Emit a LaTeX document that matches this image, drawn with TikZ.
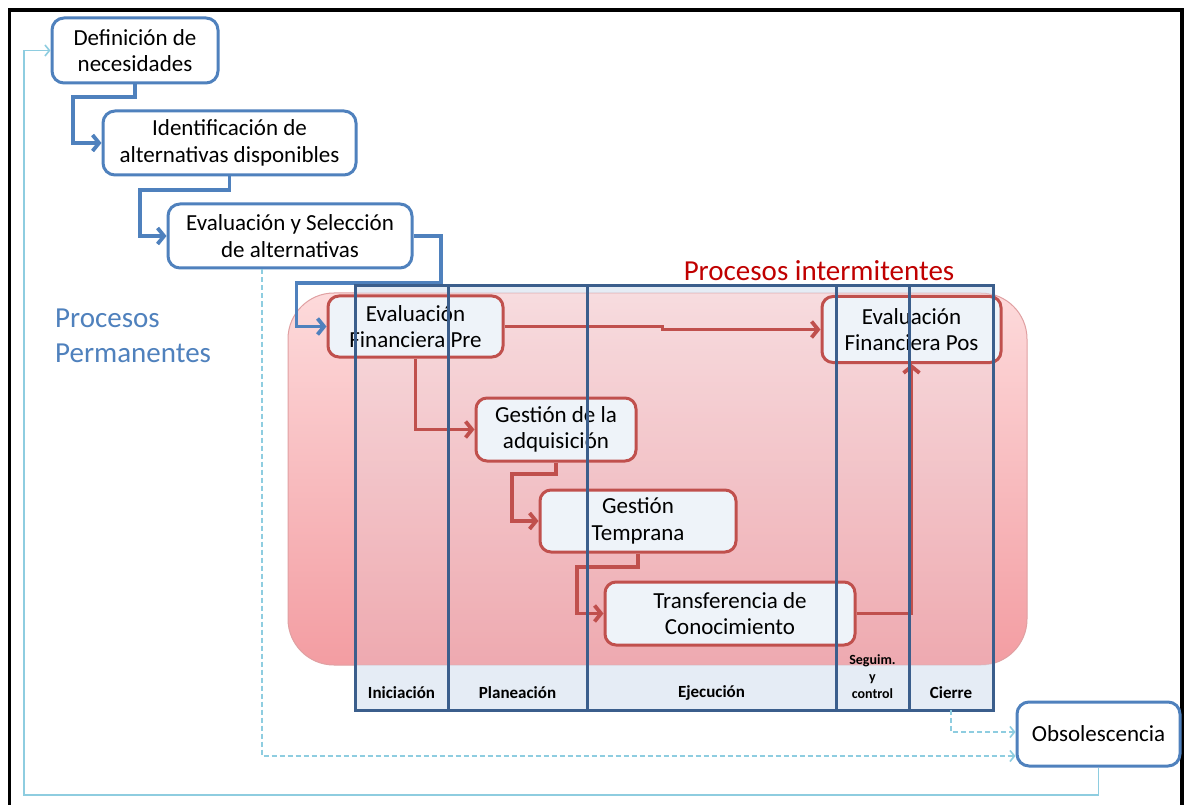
\documentclass[tikz,border=0pt]{standalone}
\usepackage{fontspec}
\setmainfont{Carlito}
\usetikzlibrary{arrows.meta,calc}
\definecolor{accblue}{HTML}{4F81BD}
\definecolor{accred}{HTML}{C0504D}
\definecolor{tblue}{HTML}{3B5E8C}
\definecolor{lblue}{HTML}{8ECDE0}
\definecolor{boxfill}{HTML}{EEF3F9}
\definecolor{pinktop}{HTML}{FDDADB}
\definecolor{pinkbot}{HTML}{F39DA2}
\definecolor{pinkedge}{HTML}{E0A0A2}
\definecolor{tablefill}{HTML}{DCE6F2}
\definecolor{titlered}{HTML}{C00000}
\begin{document}
\begin{tikzpicture}[x=1pt,y=-1pt,
  boxtext/.style={inner sep=0pt, align=center, text=black,
    font=\fontsize{23}{26.5}\selectfont},
  bluebox/.style={boxtext, draw=accblue, line width=3pt, fill=white,
    rounded corners=12pt},
  redbox/.style={boxtext, draw=accred, line width=3pt, fill=boxfill,
    rounded corners=11pt},
  blueflow/.style={draw=accblue, line width=3.8pt,
    -{Straight Barb[length=6.5pt,width=16pt]}},
  redflow/.style={draw=accred, line width=3.8pt,
    -{Straight Barb[length=6.5pt,width=16pt]}},
  thinflow/.style={draw=lblue, line width=1.6pt,
    -{Straight Barb[length=4.5pt,width=11pt]}},
  dashflow/.style={thinflow, dash pattern=on 5pt off 3pt},
  tableline/.style={draw=tblue, line width=3pt},
  phase/.style={font=\bfseries\fontsize{17}{17}\selectfont, text=black, inner sep=0pt},
  heading/.style={font=\fontsize{29}{35}\selectfont, inner sep=0pt}
]
\useasboundingbox (0,0) rectangle (1184,805);
\fill[white] (0,0) rectangle (1184,805);

% outer frame
\draw[black, line width=3.5pt] (9.5,810) -- (9.5,10) -- (1182,10) -- (1182,810);

% area of the intermittent processes
\shade[top color=pinktop, bottom color=pinkbot, draw=pinkedge, line width=1pt,
  rounded corners=46pt] (288,293) rectangle (1027,665);

% phase table background: light tint over the pink area, stronger outside it
\fill[tablefill, fill opacity=0.18] (355,286) rectangle (993,710);
\begin{scope}
  \clip (355,286) rectangle (993,710);
  \fill[tablefill, fill opacity=0.65, even odd rule]
    (355,286) rectangle (993,710)
    [rounded corners=46pt] (288,293) rectangle (1027,665);
\end{scope}

% permanent processes
\node[bluebox, minimum width=166pt, minimum height=65pt] (def) at (135,50.5)
  {Definición de\\necesidades};
\node[bluebox, minimum width=253pt, minimum height=64pt] (ident) at (229.5,143)
  {Identificación de\\alternativas disponibles};
\node[bluebox, minimum width=244pt, minimum height=64pt] (evsel) at (290,236)
  {Evaluación y Selección\\de alternativas};
\node[bluebox, minimum width=163pt, minimum height=64pt] (obs) at (1098.5,734)
  {Obsolescencia};

% intermittent processes
\node[redbox, minimum width=175pt, minimum height=61pt] (pre) at (415.5,326.5)
  {Evaluación\\Financiera Pre};
\node[redbox, minimum width=179pt, minimum height=66pt] (pos) at (911.5,329.5)
  {Evaluación\\Financiera Pos};
\node[redbox, minimum width=160pt, minimum height=63pt] (gadq) at (556,429.5)
  {Gestión de la\\adquisición};
\node[redbox, minimum width=196pt, minimum height=62pt] (gtemp) at (638,521)
  {Gestión\\Temprana};
\node[redbox, minimum width=250pt, minimum height=63pt] (trans) at (730,613.5)
  {Transferencia de\\Conocimiento};

% flow of the permanent processes
\draw[blueflow] (def.south) |- (73,97) |- (ident.west);
\draw[blueflow] (ident.south) |- (140,190) |- (evsel.west);
\draw[blueflow] (evsel.east) -| (441,283) -| ($(pre.west)+(-30,0)$) -- (pre.west);

% flow of the intermittent processes
\draw[redflow] (pre.east) -| ($(pre.east)!0.5!(pos.west)$) |- (pos.west);
\draw[redflow] (pre.south) |- (gadq.west);
\draw[redflow] (gadq.south) |- (512,474) |- (gtemp.west);
\draw[redflow] (gtemp.south) |- (577,567) |- (trans.west);
\draw[redflow] (trans.east) -| (pos.south);

% phase table lines
\draw[tableline] (355,286) rectangle (993,710);
\foreach \xx in {448,587,836,909}
  \draw[tableline] (\xx,286) -- (\xx,710);

% phase names
\node[phase] (ini) at (401.5,693) {Iniciación};
\node[phase] (pla) at (517.5,693) {Planeación};
\node[phase] (eje) at (711.5,693) {Ejecución};
\node[phase, align=center, font=\bfseries\fontsize{14}{17}\selectfont] (seg) at (872.5,677)
  {Seguim.\\y\\control};
\node[phase] (cie) at (951,693) {Cierre};
\coordinate (cieb) at (951,710);

% feedback and end of life links
\draw[thinflow] (obs.south) |- (24,795) |- (def.west);
\draw[dashflow] ($(evsel.south)+(-28,0)$) |- ($(obs.west)+(0,22)$);
\draw[dashflow] (cieb) |- ($(obs.west)+(0,-2)$);

% headings
\node[heading, text=titlered, anchor=base] (hint) at (819,280) {Procesos intermitentes};
\node[heading, text=accblue, anchor=west, align=left] (hperm) at (55,336)
  {Procesos\\Permanentes};
\end{tikzpicture}
\end{document}
